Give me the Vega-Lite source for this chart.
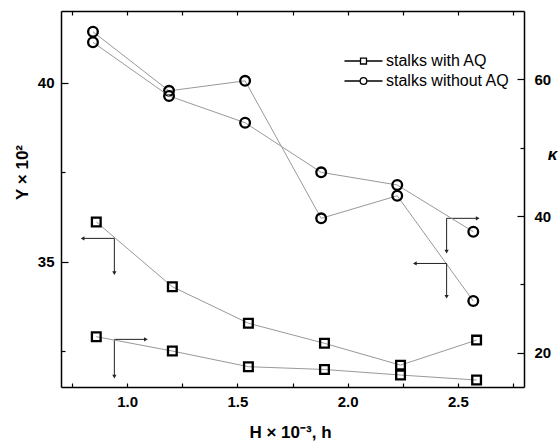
{
  "$schema": "https://vega.github.io/schema/vega-lite/v6.json",
  "width": 463,
  "height": 376,
  "autosize": "none",
  "padding": {"left": 61, "top": 11, "right": 34, "bottom": 60},
  "background": "white",
  "config": {
    "view": {"stroke": null},
    "axis": {
      "labelFont": "Liberation Sans", "labelFontSize": 15, "labelFontWeight": "bold", "labelColor": "black",
      "titleFont": "Liberation Sans", "titleFontSize": 17, "titleFontWeight": "bold", "titleColor": "black",
      "domainColor": "black", "domainWidth": 1.5, "tickColor": "black", "tickWidth": 1.2, "grid": false
    }
  },
  "datasets": {
    "pts": [
      {"H": 0.86, "value": 36.11, "series": "stalks with AQ", "measure": "Y"},
      {"H": 1.205, "value": 34.30, "series": "stalks with AQ", "measure": "Y"},
      {"H": 1.55, "value": 33.28, "series": "stalks with AQ", "measure": "Y"},
      {"H": 1.895, "value": 32.72, "series": "stalks with AQ", "measure": "Y"},
      {"H": 2.24, "value": 32.11, "series": "stalks with AQ", "measure": "Y"},
      {"H": 2.585, "value": 32.81, "series": "stalks with AQ", "measure": "Y"},
      {"H": 0.86, "value": 22.36, "series": "stalks with AQ", "measure": "kappa"},
      {"H": 1.205, "value": 20.26, "series": "stalks with AQ", "measure": "kappa"},
      {"H": 1.55, "value": 17.97, "series": "stalks with AQ", "measure": "kappa"},
      {"H": 1.895, "value": 17.56, "series": "stalks with AQ", "measure": "kappa"},
      {"H": 2.24, "value": 16.75, "series": "stalks with AQ", "measure": "kappa"},
      {"H": 2.585, "value": 16.02, "series": "stalks with AQ", "measure": "kappa"},
      {"H": 0.845, "value": 41.42, "series": "stalks without AQ", "measure": "Y"},
      {"H": 1.19, "value": 39.77, "series": "stalks without AQ", "measure": "Y"},
      {"H": 1.535, "value": 40.05, "series": "stalks without AQ", "measure": "Y"},
      {"H": 1.88, "value": 36.21, "series": "stalks without AQ", "measure": "Y"},
      {"H": 2.225, "value": 36.84, "series": "stalks without AQ", "measure": "Y"},
      {"H": 2.57, "value": 33.90, "series": "stalks without AQ", "measure": "Y"},
      {"H": 0.845, "value": 65.42, "series": "stalks without AQ", "measure": "kappa"},
      {"H": 1.19, "value": 57.57, "series": "stalks without AQ", "measure": "kappa"},
      {"H": 1.535, "value": 53.66, "series": "stalks without AQ", "measure": "kappa"},
      {"H": 1.88, "value": 46.40, "series": "stalks without AQ", "measure": "kappa"},
      {"H": 2.225, "value": 44.55, "series": "stalks without AQ", "measure": "kappa"},
      {"H": 2.57, "value": 37.71, "series": "stalks without AQ", "measure": "kappa"}
    ],
    "arrows": [
      {"x1": 0.942, "y1": 35.65, "x2": 0.798, "y2": 35.65},
      {"x1": 0.942, "y1": 35.65, "x2": 0.942, "y2": 34.68},
      {"x1": 0.942, "y1": 32.83, "x2": 1.085, "y2": 32.83},
      {"x1": 0.942, "y1": 32.83, "x2": 0.942, "y2": 31.79},
      {"x1": 2.449, "y1": 36.21, "x2": 2.59, "y2": 36.21},
      {"x1": 2.449, "y1": 36.21, "x2": 2.449, "y2": 35.28},
      {"x1": 2.449, "y1": 34.95, "x2": 2.305, "y2": 34.95},
      {"x1": 2.449, "y1": 34.95, "x2": 2.449, "y2": 34.02}
    ],
    "heads": [
      {"x": 0.798, "y": 35.65, "dir": "left"},
      {"x": 0.942, "y": 34.68, "dir": "down"},
      {"x": 1.085, "y": 32.83, "dir": "right"},
      {"x": 0.942, "y": 31.79, "dir": "down"},
      {"x": 2.59, "y": 36.21, "dir": "right"},
      {"x": 2.449, "y": 35.28, "dir": "down"},
      {"x": 2.305, "y": 34.95, "dir": "left"},
      {"x": 2.449, "y": 34.02, "dir": "down"}
    ]
  },
  "layer": [
    {
      "layer": [
        {
          "data": {"name": "pts"},
          "transform": [{"filter": "datum.measure == 'Y'"}],
          "mark": {"type": "line", "color": "#999999", "strokeWidth": 1},
          "encoding": {
            "x": {"field": "H", "type": "quantitative", "scale": {"domain": [0.7, 2.8], "nice": false, "zero": false},
              "axis": {"orient": "bottom", "values": [0.75, 1, 1.25, 1.5, 1.75, 2, 2.25, 2.5, 2.75],
                "labelExpr": "(datum.value * 2) % 1 == 0 ? format(datum.value, '.1f') : ''",
                "tickSize": -4, "labelPadding": 11, "title": "H × 10⁻³, h", "titleX": 229, "titleY": 45, "titleBaseline": "middle", "titleAlign": "center"}},
            "y": {"field": "value", "type": "quantitative", "scale": {"domain": [31.5, 42], "nice": false, "zero": false},
              "axis": {"orient": "left", "values": [32.5, 35, 37.5, 40],
                "labelExpr": "datum.value % 5 == 0 ? format(datum.value, 'd') : ''",
                "tickSize": {"condition": {"test": "datum.value % 5 == 0", "value": -7}, "value": -4},
                "labelPadding": 14, "title": "Y × 10²", "titleX": -39, "titleY": 161, "titleAngle": -90, "titleBaseline": "middle", "titleAlign": "center"}},
            "detail": {"field": "series"}
          }
        },
        {
          "data": {"name": "pts"},
          "transform": [{"filter": "datum.measure == 'Y' && datum.series == 'stalks with AQ'"}],
          "mark": {"type": "point", "shape": "square", "filled": false, "stroke": "black", "strokeWidth": 2.3, "size": 76, "opacity": 1},
          "encoding": {"x": {"field": "H", "type": "quantitative"}, "y": {"field": "value", "type": "quantitative"}}
        },
        {
          "data": {"name": "pts"},
          "transform": [{"filter": "datum.measure == 'Y' && datum.series == 'stalks without AQ'"}],
          "mark": {"type": "point", "shape": "circle", "filled": false, "stroke": "black", "strokeWidth": 2.3, "size": 94, "opacity": 1},
          "encoding": {"x": {"field": "H", "type": "quantitative"}, "y": {"field": "value", "type": "quantitative"}}
        },
        {
          "data": {"name": "arrows"},
          "mark": {"type": "rule", "color": "#222222", "strokeWidth": 1},
          "encoding": {
            "x": {"field": "x1", "type": "quantitative"}, "y": {"field": "y1", "type": "quantitative"},
            "x2": {"field": "x2"}, "y2": {"field": "y2"}
          }
        },
        {
          "data": {"name": "heads"},
          "transform": [{"filter": "datum.dir == 'left'"}],
          "mark": {"type": "point", "shape": "triangle-left", "filled": true, "color": "#222222", "size": 18, "opacity": 1},
          "encoding": {"x": {"field": "x", "type": "quantitative"}, "y": {"field": "y", "type": "quantitative"}}
        },
        {
          "data": {"name": "heads"},
          "transform": [{"filter": "datum.dir == 'right'"}],
          "mark": {"type": "point", "shape": "triangle-right", "filled": true, "color": "#222222", "size": 18, "opacity": 1},
          "encoding": {"x": {"field": "x", "type": "quantitative"}, "y": {"field": "y", "type": "quantitative"}}
        },
        {
          "data": {"name": "heads"},
          "transform": [{"filter": "datum.dir == 'down'"}],
          "mark": {"type": "point", "shape": "triangle-down", "filled": true, "color": "#222222", "size": 18, "opacity": 1},
          "encoding": {"x": {"field": "x", "type": "quantitative"}, "y": {"field": "y", "type": "quantitative"}}
        }
      ]
    },
    {
      "layer": [
        {
          "data": {"name": "pts"},
          "transform": [{"filter": "datum.measure == 'kappa'"}],
          "mark": {"type": "line", "color": "#999999", "strokeWidth": 1},
          "encoding": {
            "x": {"field": "H", "type": "quantitative",
              "axis": {"orient": "top", "values": [0.75, 1, 1.25, 1.5, 1.75, 2, 2.25, 2.5, 2.75], "labels": false, "tickSize": -4, "title": null}},
            "y": {"field": "value", "type": "quantitative", "scale": {"domain": [15, 70], "nice": false, "zero": false},
              "axis": {"orient": "right", "values": [20, 30, 40, 50, 60],
                "labelExpr": "datum.value % 20 == 0 ? format(datum.value, 'd') : ''",
                "tickSize": {"condition": {"test": "datum.value % 20 == 0", "value": -7}, "value": -4},
                "labelPadding": 17, "title": "κ", "titleFontStyle": "italic", "titleAngle": 0, "titleX": 28, "titleY": 143, "titleBaseline": "middle", "titleAlign": "center"}},
            "detail": {"field": "series"}
          }
        },
        {
          "data": {"name": "pts"},
          "transform": [{"filter": "datum.measure == 'kappa' && datum.series == 'stalks with AQ'"}],
          "mark": {"type": "point", "shape": "square", "filled": false, "stroke": "black", "strokeWidth": 2.3, "size": 76, "opacity": 1},
          "encoding": {"x": {"field": "H", "type": "quantitative"}, "y": {"field": "value", "type": "quantitative"}}
        },
        {
          "data": {"name": "pts"},
          "transform": [{"filter": "datum.measure == 'kappa' && datum.series == 'stalks without AQ'"}],
          "mark": {"type": "point", "shape": "circle", "filled": false, "stroke": "black", "strokeWidth": 2.3, "size": 94, "opacity": 1},
          "encoding": {"x": {"field": "H", "type": "quantitative"}, "y": {"field": "value", "type": "quantitative"}}
        }
      ]
    },
    {
      "data": {"name": "pts"},
      "transform": [{"filter": "datum.measure == 'Y'"}],
      "mark": {"type": "point", "filled": false, "opacity": 0},
      "encoding": {
        "shape": {"field": "series", "type": "nominal",
          "scale": {"domain": ["stalks with AQ", "stalks without AQ"],
            "range": ["M-5.43,0H-0.85M0.85,0H5.43M-0.85,-0.85H0.85V0.85H-0.85Z",
                      "M-5.43,0H-0.95M0.95,0H5.43M-0.95,0A0.95,0.95 0 1,0 0.95,0A0.95,0.95 0 1,0 -0.95,0"]},
          "legend": {"orient": "none", "legendX": 294.5, "legendY": 42, "title": null, "padding": 0,
            "symbolSize": 49, "symbolStrokeColor": "black", "symbolStrokeWidth": 1.3, "symbolFillColor": "transparent", "symbolOpacity": 1,
            "labelFont": "Liberation Sans", "labelFontSize": 16, "labelColor": "black", "labelOffset": 14.5, "rowPadding": 4}}
      }
    }
  ],
  "resolve": {"scale": {"y": "independent", "shape": "independent"}, "axis": {"x": "independent"}}
}
